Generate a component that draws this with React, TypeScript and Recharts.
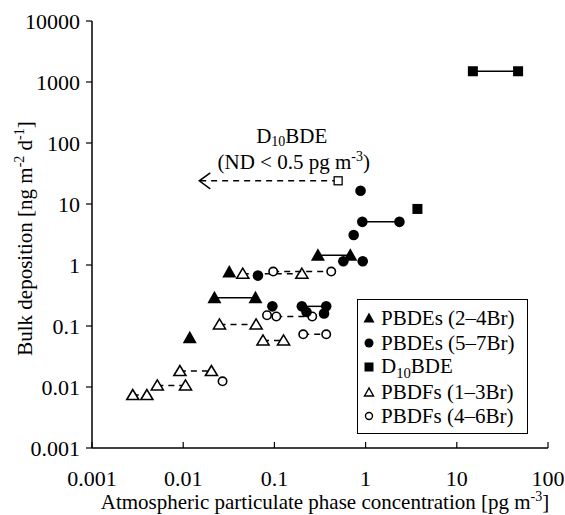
import React from 'react';
import { ScatterChart, Scatter, XAxis, YAxis, Legend, ReferenceDot } from 'recharts';

const xTicks = [0.001, 0.01, 0.1, 1, 10, 100];
const yTicks = [0.001, 0.01, 0.1, 1, 10, 100, 1000, 10000];

// PBDEs (2–4Br): filled triangles
const pbde24Single = [{ x: 0.0118, y: 0.064 }, { x: 0.032, y: 0.77 }];
const pbde24PairA = [{ x: 0.022, y: 0.29 }, { x: 0.062, y: 0.29 }];
const pbde24PairB = [{ x: 0.3, y: 1.45 }, { x: 0.68, y: 1.45 }];

// PBDEs (5–7Br): filled circles
const pbde57Single = [
  { x: 0.88, y: 16.5 }, { x: 0.74, y: 3.1 }, { x: 0.57, y: 1.15 }, { x: 0.93, y: 1.15 },
  { x: 0.066, y: 0.67 }, { x: 0.095, y: 0.21 }, { x: 0.225, y: 0.17 }, { x: 0.35, y: 0.16 },
];
const pbde57PairA = [{ x: 0.92, y: 5.1 }, { x: 2.35, y: 5.1 }];
const pbde57PairB = [{ x: 0.2, y: 0.21 }, { x: 0.37, y: 0.21 }];

// D10BDE: filled squares, and the ND point with arrow
const d10Single = [{ x: 3.7, y: 8.3 }];
const d10Pair = [{ x: 15, y: 1500 }, { x: 47, y: 1500 }];
const d10Nd = [{ x: 0.5, y: 24, kind: 'square' }, { x: 0.015, y: 24, kind: 'arrow' }];

// PBDFs (1–3Br): open triangles
const pbdf13PairA = [{ x: 0.045, y: 0.72 }, { x: 0.2, y: 0.72 }];
const pbdf13PairB = [{ x: 0.025, y: 0.106 }, { x: 0.063, y: 0.106 }];
const pbdf13PairC = [{ x: 0.075, y: 0.058 }, { x: 0.126, y: 0.058 }];
const pbdf13PairD = [{ x: 0.0092, y: 0.0183 }, { x: 0.0204, y: 0.0183 }];
const pbdf13PairE = [{ x: 0.0052, y: 0.0106 }, { x: 0.0106, y: 0.0106 }];
const pbdf13PairF = [{ x: 0.0028, y: 0.0074 }, { x: 0.004, y: 0.0074 }];

// PBDFs (4–6Br): open circles
const pbdf46Single = [{ x: 0.083, y: 0.15 }, { x: 0.027, y: 0.0124 }];
const pbdf46PairA = [{ x: 0.097, y: 0.78 }, { x: 0.42, y: 0.78 }];
const pbdf46PairB = [{ x: 0.105, y: 0.143 }, { x: 0.26, y: 0.143 }];
const pbdf46PairC = [{ x: 0.207, y: 0.073 }, { x: 0.37, y: 0.073 }];

const annotationAnchor = { x: 0.155, y: 92 };

const FONT = 'Liberation Serif';
const solidLine = { stroke: '#000', strokeWidth: 1.5 };
const dashedLine = { stroke: '#000', strokeWidth: 1.5, strokeDasharray: '6 5' };

const FilledTriangle = (p: any) => (
  <polygon points={`${p.cx},${p.cy - 7} ${p.cx - 7},${p.cy + 5.5} ${p.cx + 7},${p.cy + 5.5}`} fill="#000" />
);
const FilledCircle = (p: any) => <circle cx={p.cx} cy={p.cy} r={5.3} fill="#000" />;
const FilledSquare = (p: any) => <rect x={p.cx - 5} y={p.cy - 5} width={10} height={10} fill="#000" />;
const OpenTriangle = (p: any) => (
  <polygon points={`${p.cx},${p.cy - 5.5} ${p.cx - 6},${p.cy + 4.5} ${p.cx + 6},${p.cy + 4.5}`} fill="#fff" stroke="#000" strokeWidth={1.6} />
);
const OpenCircle = (p: any) => <circle cx={p.cx} cy={p.cy} r={4.2} fill="#fff" stroke="#000" strokeWidth={1.6} />;
const NdShape = (p: any) => {
  if (p.payload && p.payload.kind === 'arrow') {
    return <polyline points={`${p.cx + 11},${p.cy - 8} ${p.cx},${p.cy} ${p.cx + 11},${p.cy + 8}`} fill="none" stroke="#000" strokeWidth={1.5} />;
  }
  return <rect x={p.cx - 4} y={p.cy - 4} width={8} height={8} fill="#fff" stroke="#000" strokeWidth={1.3} />;
};

const legendRows = [
  { key: 'a', icon: 'ftri', label: <span>PBDEs (2–4Br)</span> },
  { key: 'b', icon: 'fcirc', label: <span>PBDEs (5–7Br)</span> },
  { key: 'c', icon: 'fsq', label: <span>D<span style={{ fontSize: '0.7em', position: 'relative', top: '0.3em' }}>10</span>BDE</span> },
  { key: 'd', icon: 'otri', label: <span>PBDFs (1–3Br)</span> },
  { key: 'e', icon: 'ocirc', label: <span>PBDFs (4–6Br)</span> },
];

const LegendIcon = ({ icon }: { icon: string }) => (
  <svg width={14} height={14} style={{ display: 'block' }}>
    {icon === 'ftri' && <polygon points="7,1.5 1.5,11.5 12.5,11.5" fill="#000" />}
    {icon === 'fcirc' && <circle cx={7} cy={7} r={4.5} fill="#000" />}
    {icon === 'fsq' && <rect x={2.5} y={2.5} width={9} height={9} fill="#000" />}
    {icon === 'otri' && <polygon points="7,3 2.5,11 11.5,11" fill="#fff" stroke="#000" strokeWidth={1.4} />}
    {icon === 'ocirc' && <circle cx={7} cy={7} r={3.5} fill="#fff" stroke="#000" strokeWidth={1.4} />}
  </svg>
);

const LegendBox = () => (
  <div style={{ boxSizing: 'border-box', width: 171, height: 135, border: '1.5px solid #000', background: '#fff', padding: '6px 0 0 4px', fontFamily: FONT, fontSize: 21, color: '#000' }}>
    {legendRows.map((r) => (
      <div key={r.key} style={{ display: 'flex', alignItems: 'center', height: 24.5, whiteSpace: 'nowrap' }}>
        <div style={{ width: 14, marginRight: 5 }}><LegendIcon icon={r.icon} /></div>
        <div style={{ lineHeight: '22px' }}>{r.label}</div>
      </div>
    ))}
  </div>
);

const tickStyle = { fontFamily: FONT, fontSize: 22, fill: '#000' };

const YTitle = (props: any) => {
  const vb = props.viewBox || { x: 0, y: 21, width: 92, height: 427 };
  const cx = vb.x + 32;
  const cy = vb.y + vb.height / 2 + 4;
  return (
    <text x={cx} y={cy} transform={`rotate(-90 ${cx} ${cy})`} textAnchor="middle" fontFamily={FONT} fontSize={21} fill="#000">
      Bulk deposition [ng m<tspan dy={-8} fontSize={14}>-2</tspan><tspan dy={8}> d</tspan><tspan dy={-8} fontSize={14}>-1</tspan><tspan dy={8}>]</tspan>
    </text>
  );
};

const XTitle = (props: any) => {
  const vb = props.viewBox || { x: 92, y: 448, width: 456, height: 67 };
  const cx = vb.x + vb.width / 2 + 5;
  const cy = vb.y + 61;
  return (
    <text x={cx} y={cy} textAnchor="middle" fontFamily={FONT} fontSize={21} fill="#000">
      Atmospheric particulate phase concentration [pg m<tspan dy={-8} fontSize={14}>-3</tspan><tspan dy={8}>]</tspan>
    </text>
  );
};

const AnnotationLabel = (props: any) => {
  const vb = props.viewBox || { x: 0, y: 0, width: 0, height: 0 };
  const cx = vb.x + (vb.width || 0) / 2;
  const cy = vb.y + (vb.height || 0) / 2;
  return (
    <g fontFamily={FONT} fontSize={21} fill="#000">
      <text x={cx} y={cy - 2} textAnchor="middle">
        D<tspan dy={3} fontSize={14}>10</tspan><tspan dy={-3}>BDE</tspan>
      </text>
      <text x={cx + 2} y={cy + 24} textAnchor="middle">
        (ND &lt; 0.5 pg m<tspan dy={-8} fontSize={14}>-3</tspan><tspan dy={8}>)</tspan>
      </text>
    </g>
  );
};

export default function App() {
  return (
    <div style={{ position: 'absolute', left: 0, top: 0, width: 565, height: 515, background: '#fff' }}>
      <ScatterChart width={565} height={515} margin={{ top: 21, right: 17, bottom: 0, left: 0 }}>
        <XAxis
          xAxisId="main"
          dataKey="x"
          type="number"
          scale="log"
          domain={[0.001, 100]}
          ticks={xTicks}
          allowDataOverflow
          height={67}
          tick={tickStyle}
          tickFormatter={(v: number) => String(v)}
          tickSize={-6}
          tickMargin={28}
          axisLine={{ stroke: '#000', strokeWidth: 1.5 }}
          tickLine={{ stroke: '#000', strokeWidth: 1.2 }}
          label={<XTitle />}
        />
        <XAxis
          xAxisId="top"
          orientation="top"
          dataKey="x"
          type="number"
          scale="log"
          domain={[0.001, 100]}
          allowDataOverflow
          height={0}
          tick={false}
          tickLine={false}
          axisLine={{ stroke: '#000', strokeWidth: 1.5 }}
        />
        <YAxis
          yAxisId="main"
          dataKey="y"
          type="number"
          scale="log"
          domain={[0.001, 10000]}
          ticks={yTicks}
          allowDataOverflow
          width={92}
          tick={tickStyle}
          tickFormatter={(v: number) => String(v)}
          tickSize={6}
          tickMargin={6}
          axisLine={{ stroke: '#000', strokeWidth: 1.5 }}
          tickLine={{ stroke: '#000', strokeWidth: 1.2 }}
          label={<YTitle />}
        />
        <YAxis
          yAxisId="right"
          orientation="right"
          dataKey="y"
          type="number"
          scale="log"
          domain={[0.001, 10000]}
          allowDataOverflow
          width={0}
          tick={false}
          tickLine={false}
          axisLine={{ stroke: '#000', strokeWidth: 1.5 }}
        />

        {/* PBDFs (1–3Br) */}
        {[pbdf13PairA, pbdf13PairB, pbdf13PairC, pbdf13PairD, pbdf13PairE, pbdf13PairF].map((d, i) => (
          <Scatter key={`f13-${i}`} xAxisId="main" yAxisId="main" data={d} line={dashedLine} shape={OpenTriangle} isAnimationActive={false} />
        ))}
        {/* PBDFs (4–6Br) */}
        {[pbdf46PairA, pbdf46PairB, pbdf46PairC].map((d, i) => (
          <Scatter key={`f46-${i}`} xAxisId="main" yAxisId="main" data={d} line={dashedLine} shape={OpenCircle} isAnimationActive={false} />
        ))}
        <Scatter xAxisId="main" yAxisId="main" data={pbdf46Single} shape={OpenCircle} isAnimationActive={false} />

        {/* D10BDE ND */}
        <Scatter xAxisId="main" yAxisId="main" data={d10Nd} line={dashedLine} shape={NdShape} isAnimationActive={false} />

        {/* PBDEs (2–4Br) */}
        {[pbde24PairA, pbde24PairB].map((d, i) => (
          <Scatter key={`e24-${i}`} xAxisId="main" yAxisId="main" data={d} line={solidLine} shape={FilledTriangle} isAnimationActive={false} />
        ))}
        <Scatter xAxisId="main" yAxisId="main" data={pbde24Single} shape={FilledTriangle} isAnimationActive={false} />

        {/* PBDEs (5–7Br) */}
        {[pbde57PairA, pbde57PairB].map((d, i) => (
          <Scatter key={`e57-${i}`} xAxisId="main" yAxisId="main" data={d} line={solidLine} shape={FilledCircle} isAnimationActive={false} />
        ))}
        <Scatter xAxisId="main" yAxisId="main" data={pbde57Single} shape={FilledCircle} isAnimationActive={false} />

        {/* D10BDE */}
        <Scatter xAxisId="main" yAxisId="main" data={d10Pair} line={solidLine} shape={FilledSquare} isAnimationActive={false} />
        <Scatter xAxisId="main" yAxisId="main" data={d10Single} shape={FilledSquare} isAnimationActive={false} />

        <ReferenceDot xAxisId="main" yAxisId="main" x={annotationAnchor.x} y={annotationAnchor.y} r={1} fill="none" stroke="none" label={<AnnotationLabel />} />

        <Legend
          layout="vertical"
          align="center"
          verticalAlign="middle"
          content={() => <LegendBox />}
          wrapperStyle={{ left: 357, top: 299, width: 171, height: 135 }}
        />
      </ScatterChart>
    </div>
  );
}
